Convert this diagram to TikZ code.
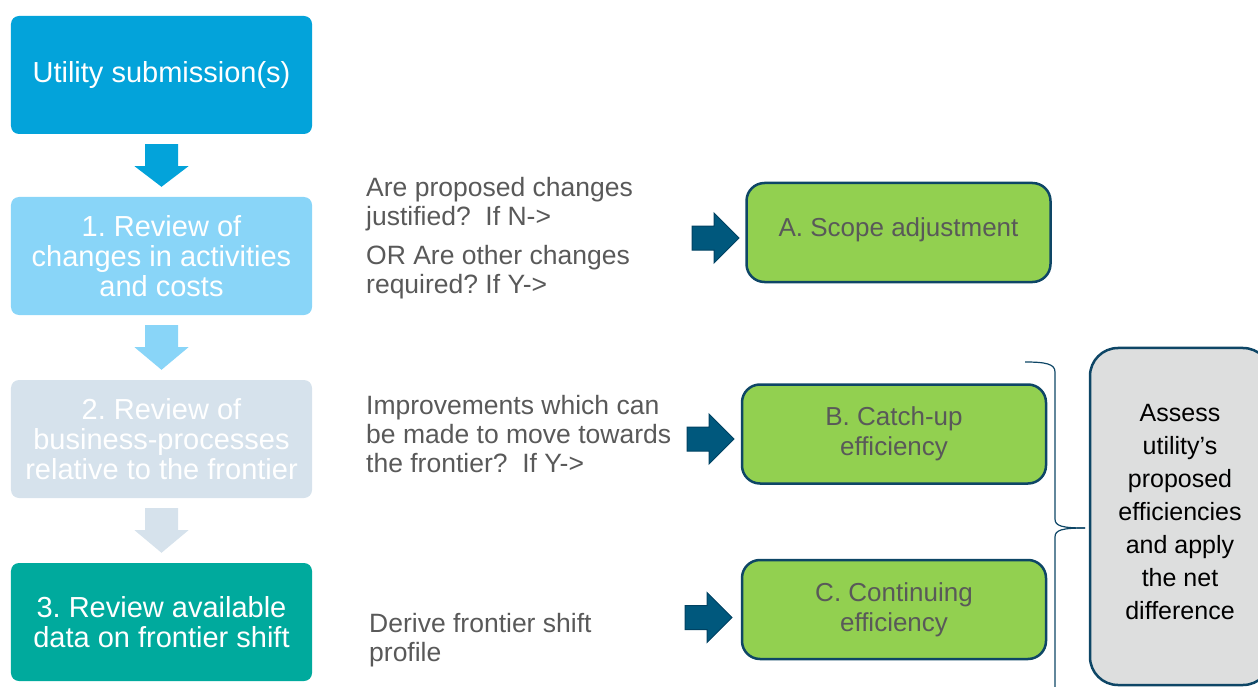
\documentclass[tikz,border=0pt]{standalone}
\usepackage{fontspec}
\setmainfont{Liberation Sans}
\usetikzlibrary{calc}
\definecolor{cUtil}{RGB}{3,163,218}
\definecolor{cOne}{RGB}{137,213,248}
\definecolor{cTwo}{RGB}{214,226,236}
\definecolor{cThree}{RGB}{0,170,157}
\definecolor{cGreen}{RGB}{146,208,80}
\definecolor{cBorder}{RGB}{14,70,102}
\definecolor{cArrow}{RGB}{0,88,125}
\definecolor{cArrowEdge}{RGB}{0,66,98}
\definecolor{cGrayBox}{RGB}{221,222,222}
\definecolor{cText}{RGB}{89,89,89}
\tikzset{
  stepbox/.style={rectangle, rounded corners=8bp, minimum width=301bp, minimum height=118bp,
    inner sep=0pt, align=center, text=white, font=\fontsize{29bp}{30bp}\selectfont\frenchspacing},
  outbox/.style={rectangle, rounded corners=18bp, draw=cBorder, line width=2.5bp, fill=cGreen,
    minimum width=304bp, minimum height=99bp, inner sep=0pt, align=center, text=cText,
    font=\fontsize{26bp}{30bp}\selectfont\frenchspacing},
  qtext/.style={anchor=north west, inner sep=0pt, align=left, text=cText,
    font=\fontsize{26.5bp}{29bp}\selectfont\frenchspacing},
  blockarrow/.style={fill=cArrow, draw=cArrowEdge, line width=1bp, line join=miter},
  bracepath/.style={draw=cBorder, line width=1.2bp},
}
\newcommand\vArrow[3]{%
  \fill[#3] ($(#1.south)+(-16.5,10)$) -- ($(#1.south)+(16.5,10)$) -- ($(#1.south)+(16.5,32)$)
    -- ($(#1.south)+(27,32)$) -- ($(#2.north)+(0,-10)$) -- ($(#1.south)+(-27,32)$)
    -- ($(#1.south)+(-16.5,32)$) -- cycle;}
\newcommand\hArrow[1]{%
  \draw[blockarrow] ($(#1)+(-47,-12)$) -- ($(#1)+(-25,-12)$) -- ($(#1)+(-25,-25)$) -- (#1)
    -- ($(#1)+(-25,25)$) -- ($(#1)+(-25,12)$) -- ($(#1)+(-47,12)$) -- cycle;}
\begin{document}
\begin{tikzpicture}[x=1bp,y=-1bp]
\useasboundingbox (0,0) rectangle (1258,687);
\clip (0,0) rectangle (1258,687);
% left column
\node[stepbox, fill=cUtil] (util) at (161.5,75) {Utility submission(s)};
\node[stepbox, fill=cOne] (one) at (161.5,256) {1. Review of\\changes in activities\\and costs};
\node[stepbox, fill=cTwo] (two) at (161.5,439) {2. Review of\\business-processes\\relative to the frontier};
\node[stepbox, fill=cThree] (three) at (161.5,622) {3. Review available\\data on frontier shift};
\vArrow{util}{one}{cUtil}
\vArrow{one}{two}{cOne}
\vArrow{two}{three}{cTwo}
% questions
\node[qtext] (q1a) at (366,177) {Are proposed changes\\justified?~~If N->};
\node[qtext] (q1b) at (366,245) {OR Are other changes\\required? If Y->};
\node[qtext] (q2) at (366,395) {Improvements which can\\be made to move towards\\the frontier?~~If Y->};
\node[qtext] (q3) at (369,613) {Derive frontier shift\\profile};
% outcome boxes
\node[outbox] (A) at (898.5,232.5) {A. Scope adjustment\rule[-10bp]{0pt}{0pt}};
\node[outbox] (B) at (894,434) {B. Catch-up\\efficiency};
\node[outbox] (C) at (894,609.5) {C. Continuing\\efficiency};
\coordinate (tA) at (739,238);
\coordinate (tB) at (734,439);
\coordinate (tC) at (732,617.5);
\hArrow{tA}
\hArrow{tB}
\hArrow{tC}
% assessment box
\node[rectangle, rounded corners=28bp, draw=cBorder, line width=2.5bp, fill=cGrayBox,
  minimum width=181bp, minimum height=337bp, inner sep=0pt] (G) at (1180.5,516.5) {};
\node[anchor=north, inner sep=0pt, align=center, text=black,
  font=\fontsize{25bp}{33bp}\selectfont] (gt) at (1180,404)
  {Assess\\utility’s\\proposed\\efficiencies\\and apply\\the net\\difference};
% brace
\coordinate (braceTip) at (1085,528);
\draw[bracepath] (1025,362) .. controls (1046,362) and (1055,364) .. (1055,372)
  -- (1055,519) .. controls (1055,526) and (1062,528) .. (braceTip);
\draw[bracepath] (braceTip) .. controls (1062,528) and (1055,530) .. (1055,537) -- (1055,700);
\end{tikzpicture}
\end{document}
